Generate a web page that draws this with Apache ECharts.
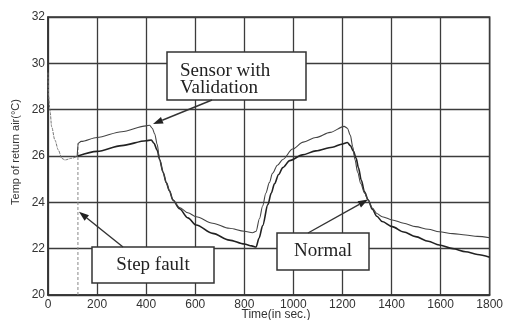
<!DOCTYPE html>
<html><head><meta charset="utf-8">
<script src="https://cdn.jsdelivr.net/npm/echarts@6/dist/echarts.min.js"></script>
<style>html,body{margin:0;padding:0;background:#fff}#c{width:506px;height:320px}</style>
</head><body><div id="c"></div>
<script>
// ---- data (time in s, temperature in °C) ----
const initialTime = [0, 2, 8, 15, 28, 42, 56, 69, 96, 122];
const initialTemp = [29.6, 28.6, 27.98, 27.26, 26.69, 26.26, 25.9, 25.83, 25.9, 26.0];

const normalTime = [122, 200, 300, 400, 421, 432, 445, 455, 469, 482, 495, 509, 536, 570, 604, 671, 739, 800, 830, 848, 860, 875, 896, 910, 923, 940, 957, 985, 1037, 1092, 1159, 1200, 1220, 1232, 1245, 1256, 1265, 1277, 1290, 1305, 1322, 1340, 1362, 1403, 1450, 1498, 1550, 1594, 1650, 1702, 1750, 1800];
const normalTemp = [26.0, 26.2, 26.45, 26.66, 26.69, 26.55, 26.25, 25.85, 25.3, 24.85, 24.5, 24.1, 23.72, 23.33, 23.02, 22.66, 22.37, 22.2, 22.12, 22.07, 22.45, 23.0, 23.9, 24.4, 24.8, 25.2, 25.5, 25.8, 26.05, 26.22, 26.38, 26.52, 26.58, 26.45, 26.2, 25.9, 25.5, 24.95, 24.45, 24.1, 23.7, 23.4, 23.17, 22.95, 22.72, 22.52, 22.32, 22.16, 22.0, 21.87, 21.75, 21.63];

const validTime = [119, 123, 135, 200, 300, 400, 414, 425, 435, 445, 455, 469, 482, 495, 509, 536, 570, 604, 671, 739, 800, 834, 848, 862, 875, 888, 902, 915, 935, 957, 997, 1040, 1092, 1150, 1207, 1220, 1232, 1242, 1251, 1262, 1275, 1290, 1305, 1322, 1340, 1362, 1403, 1450, 1498, 1550, 1594, 1650, 1702, 1750, 1800];
const validTemp = [26.0, 26.55, 26.63, 26.8, 27.05, 27.3, 27.33, 27.2, 26.95, 26.5, 25.85, 25.3, 24.85, 24.5, 24.1, 23.78, 23.55, 23.38, 23.1, 22.88, 22.75, 22.69, 22.75, 23.3, 23.85, 24.4, 24.85, 25.25, 25.6, 25.85, 26.3, 26.6, 26.8, 27.02, 27.28, 27.2, 26.9, 26.4, 25.85, 25.3, 24.8, 24.4, 24.1, 23.75, 23.52, 23.38, 23.24, 23.1, 22.95, 22.84, 22.73, 22.65, 22.59, 22.53, 22.47];

const faultTime = [122, 122];
const faultTemp = [20, 26.55];

const xTicks = [0, 200, 400, 600, 800, 1000, 1200, 1400, 1600, 1800];
const yTicks = [20, 22, 24, 26, 28, 30, 32];

const zip = (a, b) => a.map((v, i) => [v, b[i]]);

function arrow(x1, y1, x2, y2) {
  const dx = x2 - x1, dy = y2 - y1, L = Math.hypot(dx, dy);
  const ux = dx / L, uy = dy / L, px = -uy, py = ux;
  const len = 10, w = 3.5;
  const bx = x2 - ux * len, by = y2 - uy * len;
  return [
    {type:'line', z:100, shape:{x1, y1, x2: bx, y2: by}, style:{stroke:'#333', lineWidth:1.4}},
    {type:'polygon', z:100, shape:{points:[[x2, y2], [bx + px * w, by + py * w], [bx - px * w, by - py * w]]}, style:{fill:'#222'}}
  ];
}
function box(x, y, w, h) {
  return {type:'rect', z:100, shape:{x, y, width:w, height:h}, style:{fill:'#fff', stroke:'#333', lineWidth:1.5}};
}
const serif = '19px "Liberation Serif", "Times New Roman", serif';

const chart = echarts.init(document.getElementById('c'), null, {renderer:'canvas'});
chart.setOption({
  animation: false,
  backgroundColor: '#fff',
  grid: {left:48, top:17, width:443, height:278, show:true, borderColor:'#333', borderWidth:1.5, backgroundColor:'transparent'},
  xAxis: {
    type:'value', min: xTicks[0], max: xTicks[xTicks.length-1], interval: 200,
    axisLine:{show:true, onZero:false, lineStyle:{color:'#333', width:1.5}},
    axisTick:{show:false},
    splitLine:{show:true, lineStyle:{color:'#3c3c3c', width:1.3}},
    axisLabel:{color:'#333', fontFamily:'Liberation Sans, Arial', fontSize:12, margin:4, formatter: v => String(v)}
  },
  yAxis: {
    type:'value', min: yTicks[0], max: yTicks[yTicks.length-1], interval: 2,
    axisLine:{show:true, lineStyle:{color:'#333', width:1.5}},
    axisTick:{show:false},
    splitLine:{show:true, lineStyle:{color:'#3c3c3c', width:1.3}},
    axisLabel:{color:'#333', fontFamily:'Liberation Sans, Arial', fontSize:12, margin:3, formatter: v => String(v)}
  },
  series: [
    {type:'line', data: zip(initialTime, initialTemp), showSymbol:false, smooth:0.3, smoothMonotone:'x',
     lineStyle:{color:'#777', width:1, type:[3,1]}},
    {type:'line', data: zip(faultTime, faultTemp), showSymbol:false,
     lineStyle:{color:'#888', width:1, type:[3,2]}},
    {type:'line', name:'Normal', data: zip(normalTime, normalTemp), showSymbol:false, smooth:0.3, smoothMonotone:'x',
     lineStyle:{color:'#222', width:1.6}},
    {type:'line', name:'Sensor with Validation', data: zip(validTime, validTemp), showSymbol:false, smooth:0.3, smoothMonotone:'x',
     lineStyle:{color:'#444', width:1.1}}
  ],
  graphic: [
    box(167, 52, 139, 48),
    {type:'text', z:101, x:180, y:63, style:{text:'Sensor with\nValidation', font:serif, fill:'#222', lineHeight:17}},
    ...arrow(212, 100, 153, 124),
    box(92, 247, 122, 36),
    {type:'text', z:101, x:153, y:265, style:{text:'Step fault', font:serif, fill:'#222', align:'center', verticalAlign:'middle'}},
    ...arrow(123, 247, 79, 211.7),
    box(277, 233, 92, 37),
    {type:'text', z:101, x:323, y:251, style:{text:'Normal', font:serif, fill:'#222', align:'center', verticalAlign:'middle'}},
    ...arrow(308, 233, 368, 199.5),
    {type:'text', x:16, y:152, rotation:Math.PI/2, style:{text:'Temp of return air(°C)', font:'11px "Liberation Sans", Arial', fill:'#333', align:'center', verticalAlign:'middle'}},
    {type:'text', x:276, y:315, style:{text:'Time(in sec.)', font:'12px "Liberation Sans", Arial', fill:'#333', align:'center', verticalAlign:'middle'}}
  ]
});
</script></body></html>
